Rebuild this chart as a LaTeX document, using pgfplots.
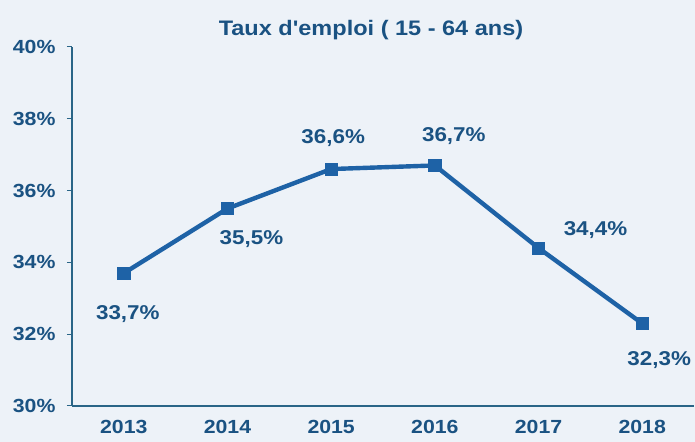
\documentclass[border=0pt]{standalone}
\usepackage{fontspec}
\setmainfont{Liberation Sans}[FakeStretch=1.12]
\newfontfamily\titlefont{Liberation Sans}[FakeStretch=1.12]
\usepackage{pgfplots}
\usepackage{pgfplotstable}
\pgfplotsset{compat=1.18}
\definecolor{bgc}{HTML}{EDF2F8}
\definecolor{txt}{HTML}{1A5282}
\definecolor{lineb}{HTML}{1E62A6}
\definecolor{axc}{HTML}{2A6587}
\pgfplotstableread{
x y dx dy
0 33.7 4 -41
1 35.5 24 -31
2 36.6 2 31
3 36.7 19 29
4 34.4 57 18
5 32.3 17 -37
}\datatable
\begin{document}
\begin{tikzpicture}[x=1bp,y=1bp]
\fill[bgc] (-72,-36) rectangle (623,406);
\begin{axis}[
  at={(0,0)}, anchor=south west,
  scale only axis, width=622bp, height=359bp,
  xmin=-0.5, xmax=5.5, ymin=30, ymax=40,
  axis x line*=bottom, axis y line*=left,
  axis line style={axc, line width=1.3bp},
  xtick={0,1,2,3,4,5},
  xticklabels={2013,2014,2015,2016,2017,2018},
  minor xtick={-0.5,0.5,1.5,2.5,3.5,4.5,5.5},
  xtick style={draw=none},
  minor x tick style={axc, line width=1bp},
  ytick={30,32,34,36,38,40},
  ytick style={axc, line width=1bp},
  tick align=outside,
  major tick length=5bp, minor tick length=5bp,
  yticklabel={\pgfmathprintnumber{\tick}\%},
  /pgf/number format/assume math mode=true,
  ticklabel style={font=\fontsize{19bp}{22bp}\selectfont\bfseries, text=txt},
  yticklabel style={xshift=-8bp},
  xticklabel style={yshift=-6bp},
  clip=false,
]
\addplot[color=lineb, line width=4.4bp, mark=square*, mark size=6.2bp,
  mark options={fill=lineb, draw=lineb, line width=0.5bp},
  nodes near coords={\pgfmathprintnumber[use comma,fixed,fixed zerofill,precision=1]{\pgfplotspointmeta}\%},
  visualization depends on={\thisrow{dx} \as \dx},
  visualization depends on={\thisrow{dy} \as \dy},
  every node near coord/.append style={anchor=center, xshift=\dx bp, yshift=\dy bp,
    font=\fontsize{20bp}{24bp}\selectfont\bfseries, text=txt,
    /pgf/number format/assume math mode=true}
] table[x=x, y=y, meta=y] {\datatable};
\end{axis}
\node[font=\titlefont\fontsize{21bp}{25bp}\selectfont\bfseries, text=txt] at (299,376) {Taux d'emploi ( 15 - 64 ans)};
\pgfresetboundingbox
\useasboundingbox (-72,-36) rectangle (623,406);
\end{tikzpicture}
\end{document}
